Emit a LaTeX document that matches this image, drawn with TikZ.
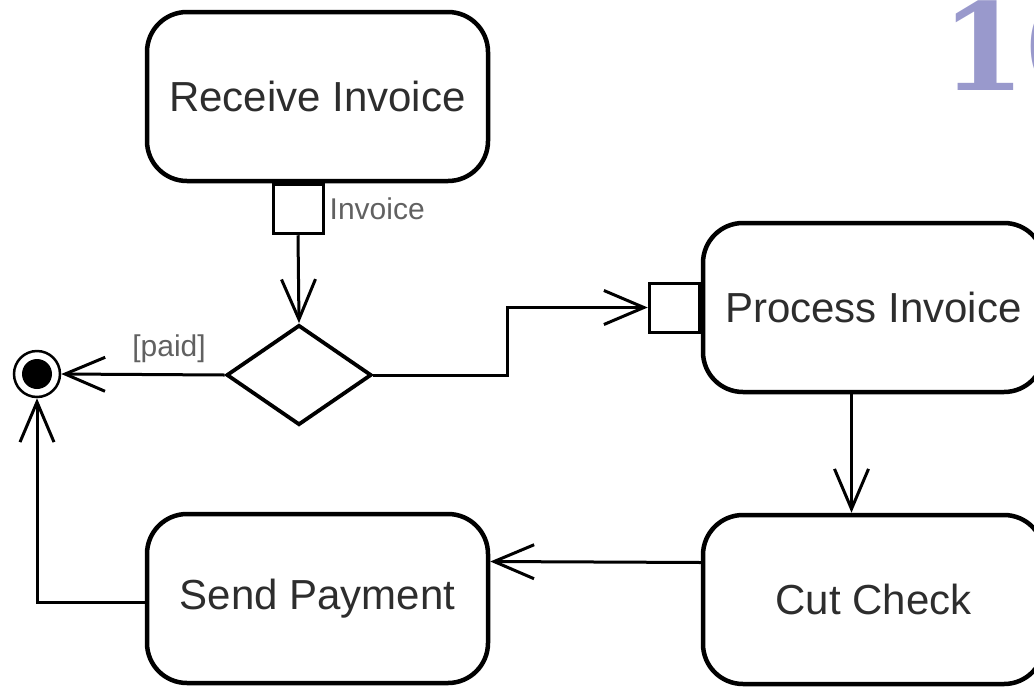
\documentclass[tikz,border=0pt]{standalone}
\usepackage{fontspec}
\setmainfont{Liberation Sans}
\newfontfamily\numfont{DejaVu Serif}
\definecolor{numcol}{RGB}{153, 153, 204}
\definecolor{textcol}{RGB}{45, 45, 45}
\usetikzlibrary{shapes.geometric, arrows.meta}
\tikzset{
    action/.style={draw, rounded corners=40pt, line width=4.5pt,
        minimum width=341pt, minimum height=169pt, text=textcol,
        font=\fontsize{42}{50}\selectfont},
    pinbox/.style={draw, line width=3pt, minimum width=50pt,
        minimum height=49pt, inner sep=0pt},
    decision/.style={draw, diamond, line width=3.8pt, minimum width=145pt,
        minimum height=100pt, inner sep=0pt},
    flow/.style={line width=3pt,
        -{Straight Barb[length=40pt, width=34pt, line width=3pt]}},
    guard/.style={text=textcol!75, font=\fontsize{30}{36}\selectfont,
        inner sep=2pt},
}

\begin{document}
\begin{tikzpicture}[x=1pt, y=-1pt]
    \clip (0, 0) rectangle (1034, 686);
    \useasboundingbox (0, 0) rectangle (1034, 686);
    \node[anchor=base west, inner sep=0pt, text=numcol,
        font=\numfont\bfseries\fontsize{121}{122}\selectfont] (pagenum)
        at (941, 90) {10};
    \node[action] (receive) at (317.5, 96.5) {Receive Invoice};
    \node[pinbox, anchor=north] (outpin) at ([xshift=-19.5pt]receive.south) {};
    \node[guard, anchor=west] (pinlbl) at ([xshift=3pt]outpin.east) {Invoice};
    \node[decision] (dec) at (299, 375) {};
    \node[draw, circle, minimum size=46pt, line width=2.5pt, inner sep=0pt]
        (final) at (37, 374) {};
    \fill (final.center) circle[radius=15pt];
    \node[action] (process) at (873.5, 307.5) {Process Invoice};
    \node[pinbox, anchor=east] (inpin) at (process.west) {};
    \node[action] (cut) at (873.5, 599.5) {Cut Check};
    \node[action] (send) at (317.5, 598.5) {Send Payment};
    \draw[flow] (outpin.south) -- (dec.north);
    \draw[flow] (dec.west) -- (final.east)
        node[guard, pos=0.34, above=8pt] (paidlbl) {[paid]};
    \draw[flow] (dec.east) -| ([xshift=-140pt]inpin.west) -- (inpin.west);
    \draw[flow] ([xshift=-22pt]process.south) -- ([xshift=-22pt]cut.north);
    \draw[flow] ([yshift=37pt]cut.west) -- ([yshift=37pt]send.east);
    \draw[flow] ([yshift=-4pt]send.west) -| (final.south);
\end{tikzpicture}
\end{document}
